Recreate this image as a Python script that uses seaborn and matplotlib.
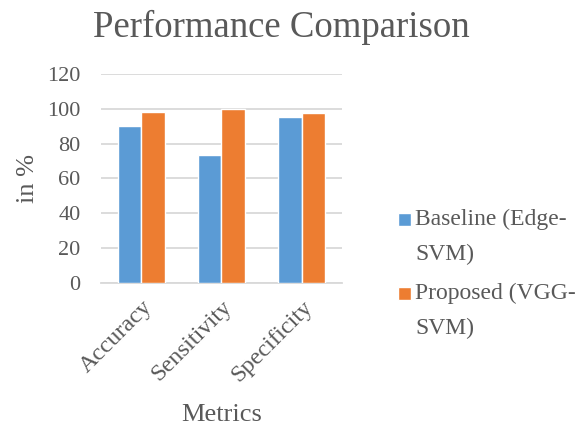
import matplotlib
matplotlib.use("Agg")
import matplotlib.pyplot as plt
from matplotlib.patches import Rectangle
from matplotlib.legend_handler import HandlerPatch
import seaborn as sns
import pandas as pd

metrics = ["Accuracy", "Sensitivity", "Specificity"]
baseline = [90.1, 73.4, 95.2]
proposed = [98.2, 99.8, 97.6]
series_names = ["Baseline (Edge-\nSVM)", "Proposed (VGG-\nSVM)"]
y_ticks = [0, 20, 40, 60, 80, 100, 120]

df = pd.DataFrame({
    "Metric": metrics * 2,
    "Value": baseline + proposed,
    "Series": [series_names[0]] * 3 + [series_names[1]] * 3,
})

sns.set_theme(style="white")
plt.rcParams["font.family"] = ["Liberation Serif", "DejaVu Serif"]

text_grey = "#595959"
grid_grey = "#d9d9d9"

fig = plt.figure(figsize=(5.79, 4.30), dpi=100)
ax = fig.add_axes([0.175, 0.342, 0.415, 0.486])

sns.barplot(data=df, x="Metric", y="Value", hue="Series",
            palette=["#5B9BD5", "#ED7D31"], width=0.58, saturation=1,
            ax=ax, zorder=3)

ax.set_ylim(0, 120)
ax.set_yticks(y_ticks)
ax.set_xlim(-0.5, 2.5)
ax.yaxis.grid(True, color=grid_grey, linewidth=1.3, zorder=0)
ax.set_axisbelow(True)
for side in ["left", "right", "top"]:
    ax.spines[side].set_visible(False)
ax.spines["bottom"].set_color(grid_grey)
ax.spines["bottom"].set_linewidth(1.3)
ax.tick_params(axis="y", length=0, labelsize=16, colors=text_grey, pad=15)
ax.tick_params(axis="x", length=0, labelsize=17.5, colors=text_grey, pad=10)
plt.setp(ax.get_xticklabels(), rotation=45, ha="right", rotation_mode="anchor")

ax.set_xlabel("Metrics", fontsize=19, color=text_grey, labelpad=13)
ax.set_ylabel("in %", fontsize=19, color=text_grey, labelpad=6)

fig.suptitle("Performance Comparison", fontsize=26.5, color=text_grey,
             x=0.485, y=0.978)


def top_square(legend, orig_handle, xdescent, ydescent, width, height, fontsize):
    # small square marker aligned with the first line of a two-line label
    size = 0.55 * fontsize
    return Rectangle((-xdescent, 0.80 * fontsize), size, size)


leg_fs = 17
leg = ax.legend(loc="upper left", bbox_to_anchor=(0.687, 0.514),
                bbox_transform=fig.transFigure, frameon=False,
                fontsize=leg_fs, handlelength=0.55, handleheight=0.7,
                handletextpad=0.2, labelspacing=0.75, borderpad=0,
                borderaxespad=0,
                handler_map={Rectangle: HandlerPatch(patch_func=top_square)})
for t in leg.get_texts():
    t.set_color(text_grey)
    t.set_linespacing(1.85)

fig.savefig("out.png", dpi=100)
